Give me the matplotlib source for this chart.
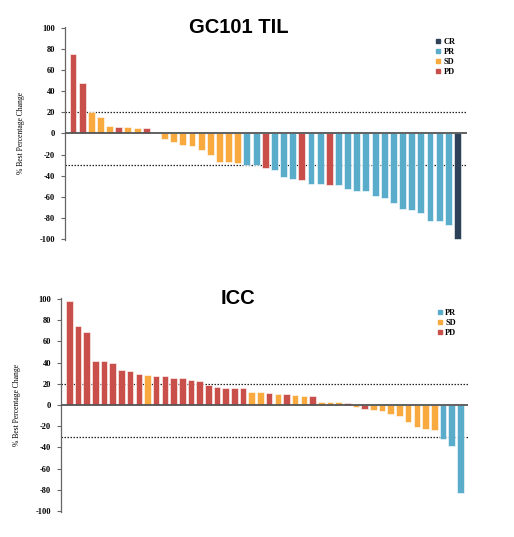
import numpy as np
import matplotlib.pyplot as plt
from matplotlib.lines import Line2D

# GC101 TIL waterfall (best % change per patient, with response category)
til_values = [75, 48, 20, 16, 7, 6, 6, 5, 5, 0, -5, -8, -11, -12, -16, -20, -27, -27, -28,
              -30, -30, -33, -35, -41, -43, -44, -48, -48, -49, -49, -53, -55, -55, -59,
              -61, -66, -72, -73, -75, -83, -83, -87, -100]
til_resp = ["PD", "PD", "SD", "SD", "SD", "PD", "SD", "SD", "PD", "SD", "SD", "SD", "SD", "SD",
            "SD", "SD", "SD", "SD", "SD", "PR", "PR", "PD", "PR", "PR", "PR", "PD", "PR", "PR",
            "PD", "PR", "PR", "PR", "PR", "PR", "PR", "PR", "PR", "PR", "PR", "PR", "PR", "PR",
            "CR"]

# ICC waterfall
icc_values = [98, 75, 69, 42, 41.5, 40, 33, 32.5, 29.5, 28.5, 27.8, 27.2, 25.6, 25.6, 23.4,
              22.2, 18.8, 16.6, 16.3, 16.3, 16.3, 12, 12, 11, 10.3, 10.6, 9.1, 8.8, 8.1, 3.1,
              3.1, 3.1, 1.6, -2.2, -3.8, -4.4, -5.6, -8.8, -10, -15.6, -20.3, -22.5, -23.4,
              -32, -39, -83]
icc_resp = ["PD"] * 9 + ["SD"] + ["PD"] * 11 + ["SD", "SD", "PD", "SD", "PD", "SD", "SD", "PD",
            "SD", "SD", "SD", "PD", "SD", "PD"] + ["SD"] * 8 + ["PR", "PR", "PR"]

colors = {"CR": "#2d4159", "PR": "#5aaccb", "SD": "#f9aa3e", "PD": "#c9504a"}
thresholds = [20, -30]
yticks = list(range(-100, 101, 20))

fig = plt.figure(figsize=(5.14, 5.37), dpi=100)


def waterfall(ax, values, resp, legend_keys, xlim):
    x = np.arange(len(values))
    ax.bar(x, values, width=0.76, color=[colors[r] for r in resp],
           edgecolor="white", linewidth=0.4, zorder=2)
    ax.axhline(0, color="#555555", lw=1.3, zorder=3)
    for t in thresholds:
        ax.axhline(t, color="#222222", lw=0.9, ls=(0, (1.2, 1.2)), zorder=1)
    ax.set_xlim(*xlim)
    ax.set_ylim(-101, 101)
    ax.set_yticks(yticks)
    ax.set_yticklabels([str(v) for v in yticks], family="Liberation Serif",
                       fontweight="bold", fontsize=6)
    ax.set_xticks([])
    for s in ["top", "right", "bottom"]:
        ax.spines[s].set_visible(False)
    ax.spines["left"].set_color("#666666")
    ax.spines["left"].set_linewidth(0.9)
    ax.tick_params(axis="y", length=3, width=0.8, color="#666666", pad=4)
    ax.set_ylabel("% Best Percentage Change", family="Liberation Serif",
                  fontsize=5.5, labelpad=11)
    handles = [Line2D([], [], marker="s", ls="", color=colors[k], markersize=3.5)
               for k in legend_keys]
    ax.legend(handles, legend_keys, loc="upper right", bbox_to_anchor=(0.99, 0.985),
              frameon=False, handletextpad=0.1, labelspacing=0.25,
              handlelength=1.0, borderaxespad=0.5,
              prop={"family": "Liberation Serif", "weight": "bold", "size": 6})
    return ax


ax1 = fig.add_axes([0.1265, 0.553, 0.782, 0.397])
waterfall(ax1, til_values, til_resp, ["CR", "PR", "SD", "PD"], (-0.87, 43.04))
ax2 = fig.add_axes([0.1187, 0.0466, 0.7918, 0.3984])
waterfall(ax2, icc_values, icc_resp, ["PR", "SD", "PD"], (-0.955, 45.89))

fig.text(239 / 514, 1 - 28 / 537, "GC101 TIL", ha="center", va="center",
         family="Liberation Sans", fontweight="bold", fontsize=14.5)
fig.text(238 / 514, 1 - 299 / 537, "ICC", ha="center", va="center",
         family="Liberation Sans", fontweight="bold", fontsize=14.5)

fig.savefig("out.png", dpi=100)
